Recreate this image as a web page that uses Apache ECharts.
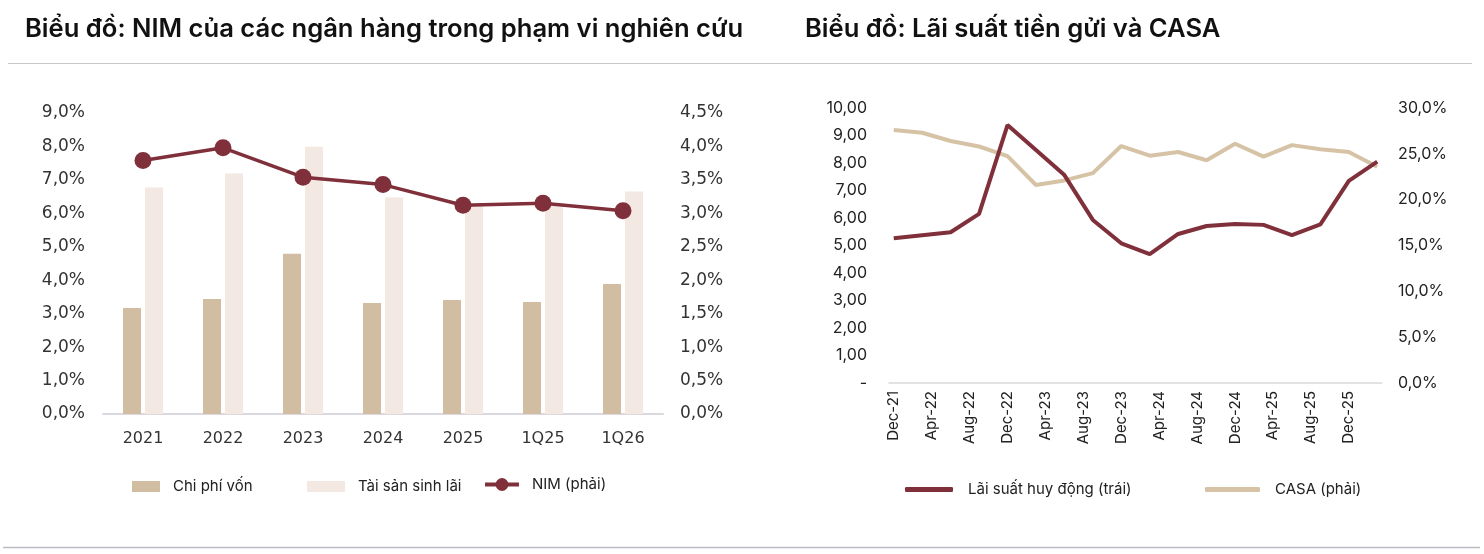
<!DOCTYPE html>
<html>
<head>
<meta charset="utf-8">
<script src="https://cdn.jsdelivr.net/npm/echarts@6/dist/echarts.min.js"></script>
<style>
  html, body { margin: 0; padding: 0; background: #fff; }
  #chart { width: 1484px; height: 554px; }
</style>
</head>
<body>
<div id="chart"></div>
<script>
// --- NIM chart data ---
var nimCategories = ['2021', '2022', '2023', '2024', '2025', '1Q25', '1Q26']
var costOfFunds = [3.17, 3.44, 4.79, 3.32, 3.41, 3.35, 3.89]
var earningAssets = [6.77, 7.19, 7.99, 6.47, 6.22, 6.22, 6.65]
var nim = [3.79, 3.98, 3.54, 3.43, 3.12, 3.15, 3.04]

// --- deposit rate / CASA data (quarterly) ---
var rateQuarters = ['Dec-21', 'Mar-22', 'Jun-22', 'Sep-22', 'Dec-22', 'Mar-23', 'Jun-23', 'Sep-23', 'Dec-23',
  'Mar-24', 'Jun-24', 'Sep-24', 'Dec-24', 'Mar-25', 'Jun-25', 'Sep-25', 'Dec-25', 'Mar-26']
var depositRate = [5.26, 5.37, 5.48, 6.15, 9.38, 8.47, 7.56, 5.93, 5.08,
  4.69, 5.42, 5.71, 5.78, 5.75, 5.38, 5.77, 7.35, 8.05]
var casa = [27.6, 27.3, 26.4, 25.8, 24.75, 21.6, 22.1, 22.9, 25.85,
  24.8, 25.2, 24.3, 26.1, 24.7, 25.95, 25.5, 25.2, 23.6]

var maroon = '#80303a'
var tan = '#d0bda2'
var light = '#f3e8e2'
var casaColor = '#d6c3a6'

// monthly axis so labels fall every 4 months like the original
var monthNames = ['Jan', 'Feb', 'Mar', 'Apr', 'May', 'Jun', 'Jul', 'Aug', 'Sep', 'Oct', 'Nov', 'Dec']
var months = []
for (var y = 2021; y <= 2026; y++) {
  for (var m = 0; m < 12; m++) {
    if ((y === 2021 && m < 11) || (y === 2026 && m > 2)) continue
    months.push(monthNames[m] + '-' + String(y).slice(2))
  }
}
function toMonthly(values) {
  var out = months.map(function() { return null })
  rateQuarters.forEach(function(q, i) {
    out[months.indexOf(q)] = values[i]
  })
  return out
}

function comma(v, d) {
  return v.toFixed(d).replace('.', ',')
}

var labelFont = 'DejaVu Sans'
var uiFont = 'Inter'

var chart = echarts.init(document.getElementById('chart'))
chart.setOption({
  animation: false,
  backgroundColor: '#fff',
  title: [
    {
      text: 'Biểu đồ: NIM của các ngân hàng trong phạm vi nghiên cứu',
      left: 20, top: 11,
      textStyle: { fontFamily: uiFont, fontSize: 25.6, fontWeight: 600, color: '#111' }
    },
    {
      text: 'Biểu đồ: Lãi suất tiền gửi và CASA',
      left: 800, top: 11,
      textStyle: { fontFamily: uiFont, fontSize: 25.6, fontWeight: 600, color: '#111' }
    }
  ],
  graphic: [
    { type: 'line', shape: { x1: 8, y1: 63.5, x2: 1472, y2: 63.5 }, style: { stroke: '#c9c9c9', lineWidth: 1 } },
    { type: 'line', shape: { x1: 3, y1: 547.5, x2: 1480, y2: 547.5 }, style: { stroke: '#bdbac2', lineWidth: 1.5 } }
  ],
  legend: [
    {
      data: ['Chi phí vốn'], left: 127, top: 474, icon: 'rect', itemWidth: 28, itemHeight: 11,
      textStyle: { fontFamily: uiFont, fontSize: 15, color: '#222', padding: [0, 0, 0, 8] }
    },
    {
      data: ['Tài sản sinh lãi'], left: 302, top: 474, icon: 'rect', itemWidth: 38, itemHeight: 11,
      textStyle: { fontFamily: uiFont, fontSize: 15, color: '#222', padding: [0, 0, 0, 8] }
    },
    {
      data: ['NIM (phải)'], left: 478, top: 472, itemWidth: 34, itemHeight: 16,
      lineStyle: { width: 4 },
      textStyle: { fontFamily: uiFont, fontSize: 15, color: '#222', padding: [0, 0, 0, 8] }
    },
    {
      data: ['Lãi suất huy động (trái)'], left: 900, top: 477, icon: 'roundRect', itemWidth: 48, itemHeight: 5,
      textStyle: { fontFamily: uiFont, fontSize: 15, color: '#222', padding: [0, 0, 0, 10] }
    },
    {
      data: ['CASA (phải)'], left: 1200, top: 477, icon: 'roundRect', itemWidth: 55, itemHeight: 5,
      textStyle: { fontFamily: uiFont, fontSize: 15, color: '#222', padding: [0, 0, 0, 10] }
    }
  ],
  grid: [
    { left: 103, top: 113, width: 560, height: 301 },
    { left: 889, top: 108, width: 493, height: 275 }
  ],
  xAxis: [
    {
      type: 'category', gridIndex: 0, data: nimCategories,
      axisLine: { lineStyle: { color: '#dcd8df', width: 2 } },
      axisTick: { show: false },
      axisLabel: { fontFamily: labelFont, fontSize: 16, color: '#333', margin: 17 }
    },
    {
      type: 'category', gridIndex: 1, data: months, boundaryGap: true,
      axisLine: { lineStyle: { color: '#d9d9d9', width: 1.5 } },
      axisTick: { interval: 3, length: 5, lineStyle: { color: '#d9d9d9' } },
      axisLabel: { interval: 3, rotate: 90, fontFamily: uiFont, fontSize: 15, color: '#222', margin: 8 }
    }
  ],
  yAxis: [
    {
      type: 'value', gridIndex: 0, min: 0, max: 9, interval: 1,
      splitLine: { show: false },
      axisLabel: { fontFamily: labelFont, fontSize: 17, color: '#333', margin: 18,
        formatter: function(v) { return comma(v, 1) + '%' } }
    },
    {
      type: 'value', gridIndex: 0, min: 0, max: 4.5, interval: 0.5, position: 'right',
      splitLine: { show: false },
      axisLabel: { fontFamily: labelFont, fontSize: 17, color: '#333', margin: 17,
        formatter: function(v) { return comma(v, 1) + '%' } }
    },
    {
      type: 'value', gridIndex: 1, min: 0, max: 10, interval: 1,
      splitLine: { show: false },
      axisLabel: { fontFamily: uiFont, fontSize: 16, color: '#222', margin: 22,
        formatter: function(v) { return v === 0 ? '-' : comma(v, 2) } }
    },
    {
      type: 'value', gridIndex: 1, min: 0, max: 30, interval: 5, position: 'right',
      splitLine: { show: false },
      axisLabel: { fontFamily: uiFont, fontSize: 16, color: '#222', margin: 16,
        formatter: function(v) { return comma(v, 1) + '%' } }
    }
  ],
  series: [
    {
      name: 'Chi phí vốn', type: 'bar', xAxisIndex: 0, yAxisIndex: 0,
      data: costOfFunds, barWidth: 18, barGap: '22%', itemStyle: { color: tan }
    },
    {
      name: 'Tài sản sinh lãi', type: 'bar', xAxisIndex: 0, yAxisIndex: 0,
      data: earningAssets, barWidth: 18, barGap: '22%', itemStyle: { color: light }
    },
    {
      name: 'NIM (phải)', type: 'line', xAxisIndex: 0, yAxisIndex: 1,
      data: nim, symbol: 'circle', symbolSize: 17,
      lineStyle: { color: maroon, width: 3.5 }, itemStyle: { color: maroon }, z: 5
    },
    {
      name: 'Lãi suất huy động (trái)', type: 'line', xAxisIndex: 1, yAxisIndex: 2,
      data: toMonthly(depositRate), connectNulls: true, showSymbol: false, symbol: 'none',
      lineStyle: { color: maroon, width: 4 }, itemStyle: { color: maroon }, z: 4
    },
    {
      name: 'CASA (phải)', type: 'line', xAxisIndex: 1, yAxisIndex: 3,
      data: toMonthly(casa), connectNulls: true, showSymbol: false, symbol: 'none',
      lineStyle: { color: casaColor, width: 4 }, itemStyle: { color: casaColor }, z: 3
    }
  ]
})
</script>
</body>
</html>
